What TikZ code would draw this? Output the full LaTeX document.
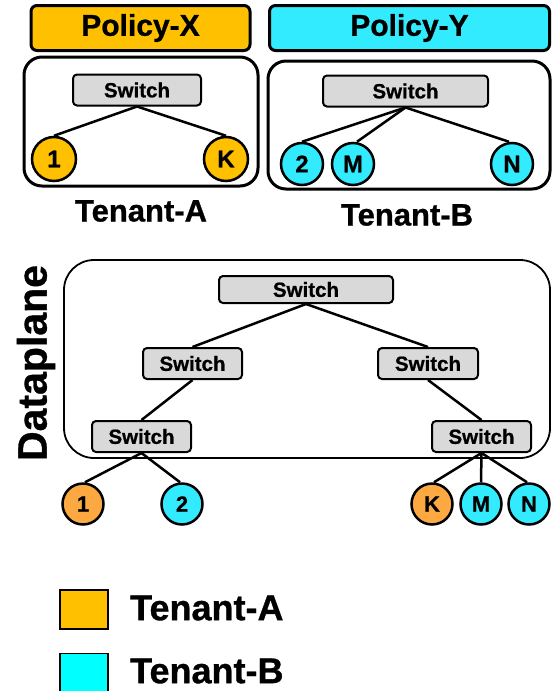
\documentclass[tikz,border=0pt]{standalone}
\usepackage{fontspec}
\setmainfont{Liberation Sans}[BoldFeatures={FakeBold=0.8}]
\definecolor{tenA}{HTML}{FFC000}
\definecolor{tenB}{HTML}{33EBFF}
\definecolor{dpA}{HTML}{FBA940}
\definecolor{legB}{HTML}{00FFFF}
\definecolor{swgrey}{HTML}{D9D9D9}
\newcommand{\fs}[1]{\fontsize{#1}{#1}\selectfont\bfseries}
\tikzset{
  policy/.style={draw, line width=3pt, rounded corners=6pt, inner sep=0pt, minimum height=45pt, font=\fs{30}},
  tenantbox/.style={draw, line width=3pt, rounded corners=18pt, inner sep=0pt},
  swbox/.style={draw, fill=swgrey, line width=2pt, rounded corners=4pt, inner sep=0pt, minimum height=31pt, font=\fs{20.5}},
  host/.style={circle, draw, line width=2.5pt, inner sep=0pt, minimum size=#1, font=\fs{24}},
  host/.default=44pt,
  dphost/.style={circle, draw, line width=2.5pt, inner sep=0pt, minimum size=41pt, font=\fs{22}},
  link/.style={line width=2.5pt},
  lbl/.style={font=\fs{31}, inner sep=0pt},
  legsq/.style={draw, line width=1.5pt, inner sep=0pt, minimum width=48pt, minimum height=39pt},
  legtxt/.style={font=\fs{36}, inner sep=0pt, anchor=west}
}
\begin{document}
\begin{tikzpicture}[x=1pt, y=-1pt]
\useasboundingbox (0,0) rectangle (552,691);
% policies
\node[policy, fill=tenA, minimum width=219pt] (px) at (140.5,28) {Policy-X};
\node[policy, fill=tenB, minimum width=280pt] (py) at (409.5,28) {Policy-Y};
% tenant A
\draw[tenantbox] (24,57) rectangle (258,186);
\node[swbox, minimum width=128pt] (swa) at (137,90) {Switch};
\node[host, fill=tenA] (a1) at (54,159) {1};
\node[host, fill=tenA] (ak) at (226,159) {K};
\draw[link] (swa.south) -- (a1.north);
\draw[link] (swa.south) -- (ak.north);
\node[lbl] (ta) at (141,211) {Tenant-A};
% tenant B
\draw[tenantbox] (268,61) rectangle (550,189);
\node[swbox, minimum width=165pt] (swb) at (405.5,91) {Switch};
\node[host=42pt, fill=tenB] (b2) at (302,164) {2};
\node[host=42pt, fill=tenB] (bm) at (353,164) {M};
\node[host=42pt, fill=tenB] (bn) at (512,164) {N};
\draw[link] (swb.south) -- (b2.north);
\draw[link] (swb.south) -- ([xshift=4pt]bm.north);
\draw[link] (swb.south) -- ([xshift=-3pt]bn.north);
\node[lbl] (tb) at (407,215) {Tenant-B};
% dataplane
\draw[line width=1.8pt, rounded corners=30pt] (64,260) rectangle (550,458);
\node[font=\fs{41}, rotate=90, inner sep=0pt] (dp) at (36,363) {Dataplane};
\node[swbox, minimum width=174pt, minimum height=27pt] (s0) at (306,289.5) {Switch};
\node[swbox, minimum width=99pt] (s1) at (192.5,363.5) {Switch};
\node[swbox, minimum width=100pt] (s2) at (428,363.5) {Switch};
\node[swbox, minimum width=99pt] (s3) at (141.5,436.5) {Switch};
\node[swbox, minimum width=99pt] (s4) at (481.5,436.5) {Switch};
\draw[link] (s0.south) -- (s1.north);
\draw[link] (s0.south) -- (s2.north);
\draw[link] (s1.south) -- (s3.north);
\draw[link] (s2.south) -- (s4.north);
\node[dphost, fill=dpA] (d1) at (83,504) {1};
\node[dphost, fill=tenB] (d2) at (182,504) {2};
\node[dphost, fill=dpA] (dk) at (432,504) {K};
\node[dphost, fill=tenB] (dm) at (481,504) {M};
\node[dphost, fill=tenB] (dn) at (529,504) {N};
\draw[link] (s3.south) -- ([xshift=2pt]d1.north);
\draw[link] (s3.south) -- ([xshift=-2pt]d2.north);
\draw[link] (s4.south) -- ([xshift=2pt]dk.north);
\draw[link] (s4.south) -- (dm.north);
\draw[link] (s4.south) -- ([xshift=-2pt]dn.north);
% legend
\node[legsq, fill=tenA] (la) at (84,609.5) {};
\node[legsq, fill=legB] (lb) at (84,673) {};
\node[legtxt] (lta) at (130,608) {Tenant-A};
\node[legtxt] (ltb) at (130,671) {Tenant-B};
\end{tikzpicture}
\end{document}
